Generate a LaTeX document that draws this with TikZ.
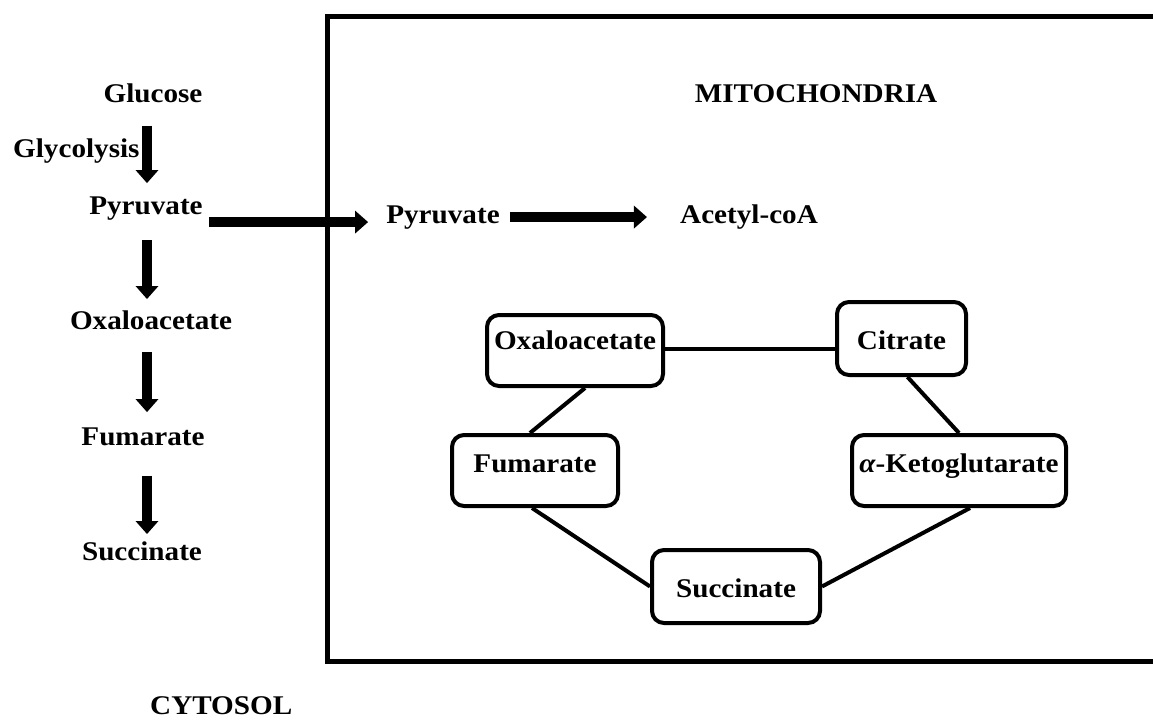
\documentclass[tikz,border=0pt]{standalone}
\usepackage{fontspec}
\setmainfont{Liberation Serif}[FakeStretch=1.08]
\usetikzlibrary{arrows.meta}

\tikzset{
  lbl/.style={font=\fontsize{27}{30}\selectfont\bfseries, inner sep=0pt, anchor=base},
  flowarrow/.style={line width=10pt, -{Triangle[width=22pt,length=13pt]}},
  cyclebox/.style={lbl, draw, line width=4pt, rounded corners=12pt},
  cyclelink/.style={line width=4pt},
}

\begin{document}
\begin{tikzpicture}[x=1pt, y=-1pt]
    \useasboundingbox (0,0) rectangle (1153,720);
    % mitochondria compartment
    \draw[line width=5pt] (327,16) rectangle (1180,661);
    \node[lbl] (mito) at (816,102) {MITOCHONDRIA};
    \node[lbl, anchor=base west] (cyto) at (150,714) {CYTOSOL};

    % cytosol side
    \coordinate (colx) at (147,0);
    \node[lbl] (glu) at (153,102) {Glucose};
    \node[lbl, anchor=base west] (glyc) at (13,157) {Glycolysis};
    \node[lbl] (pyrA) at (146,214) {Pyruvate};
    \node[lbl] (oxaA) at (151,329) {Oxaloacetate};
    \node[lbl] (fumA) at (143,445) {Fumarate};
    \node[lbl] (sucA) at (142,560) {Succinate};

    \draw[flowarrow, shorten <=23pt, shorten >=13pt] (glu.south -| colx) -- (pyrA.north -| colx);
    \draw[flowarrow, shorten <=20pt, shorten >=11pt] (pyrA.south -| colx) -- (oxaA.north -| colx);
    \draw[flowarrow, shorten <=23pt, shorten >=15pt] (oxaA.south -| colx) -- (fumA.north -| colx);
    \draw[flowarrow, shorten <=30pt, shorten >=7pt] (fumA.south -| colx) -- (sucA.north -| colx);

    % into the mitochondria
    \node[lbl] (pyrB) at (443,223) {Pyruvate};
    \node[lbl] (acet) at (749,223) {Acetyl-coA};
    \draw[flowarrow, shorten <=6pt, shorten >=18pt] ([yshift=-14pt]pyrA.east) -- ([yshift=-14pt]pyrA.east -| pyrB.west);
    \draw[flowarrow, shorten <=10pt, shorten >=33pt] (pyrB.east) -- (pyrB.east -| acet.west);

    % cycle
    \node[cyclebox, minimum width=176pt, text height=34pt, text depth=37pt] (oxa) at (575,349) {Oxaloacetate};
    \node[cyclebox, minimum width=129pt, text height=47pt, text depth=26pt] (cit) at (901.5,349) {Citrate};
    \node[cyclebox, minimum width=166pt, text height=37pt, text depth=34pt] (fum) at (535,472) {Fumarate};
    \node[cyclebox, minimum width=214pt, text height=37pt, text depth=34pt] (akg) at (959,472) {{\itshape α}-Ketoglutarate};
    \node[cyclebox, minimum width=168pt, text height=47pt, text depth=26pt] (suc) at (736,597) {Succinate};

    \draw[cyclelink] (oxa.base east) -- (cit.base west);
    \draw[cyclelink] ([xshift=10pt]oxa.south) -- ([xshift=-5pt]fum.north);
    \draw[cyclelink] ([xshift=6pt]cit.south) -- (akg.north);
    \draw[cyclelink] ([xshift=-3pt]fum.south) -- (suc.west);
    \draw[cyclelink] ([xshift=11pt]akg.south) -- (suc.east);
\end{tikzpicture}
\end{document}
